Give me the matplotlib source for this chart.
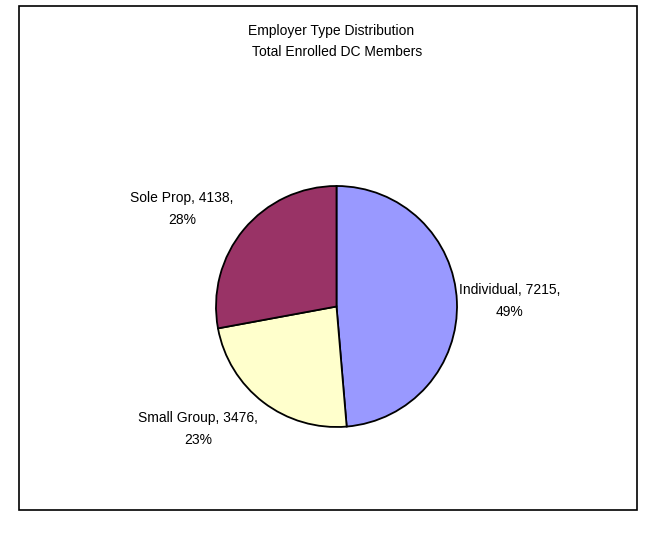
import matplotlib
matplotlib.use("Agg")
import matplotlib.pyplot as plt
from matplotlib.patches import Rectangle

categories = ["Individual", "Small Group", "Sole Prop"]
values = [7215, 3476, 4138]
percents = ["49%", "23%", "28%"]
colors = ["#9999FF", "#FFFFCC", "#993366"]
title_lines = ["Employer Type Distribution", "Total Enrolled DC Members"]

W, H = 658, 540
fig = plt.figure(figsize=(W / 100, H / 100), dpi=100)
ax = fig.add_axes([0, 0, 1, 1])
ax.set_xlim(0, W)
ax.set_ylim(H, 0)
ax.axis("off")

# pie drawn in a separate axes with natural orientation
cx, cy, r = 336.5, 306.5, 120.5
pax = fig.add_axes([(cx - r) / W, 1 - (cy + r) / H, 2 * r / W, 2 * r / H])
pax.pie(values, colors=colors, startangle=90, counterclock=False,
        wedgeprops=dict(edgecolor="black", linewidth=1.3), radius=1.0)
pax.set_xlim(-1.0, 1.0)
pax.set_ylim(-1.0, 1.0)
pax.set_aspect("equal")
pax.axis("off")

font = "Liberation Sans"
fs = 10
ax.text(331, 31, title_lines[0], ha="center", va="center", fontsize=fs, family=font)
ax.text(337, 52, title_lines[1], ha="center", va="center", fontsize=fs, family=font)

label_pos = [(510, 301), (198, 429), (182, 209)]
for cat, v, p, (x, y) in zip(categories, values, percents, label_pos):
    ax.text(x, y, f"{cat}, {v},\n{p}", ha="center", va="center", fontsize=fs,
            family=font, linespacing=1.65)

ax.add_patch(Rectangle((19, 6), 618, 504, fill=False, edgecolor="black", linewidth=1.2))

fig.savefig("out.png", dpi=100)
